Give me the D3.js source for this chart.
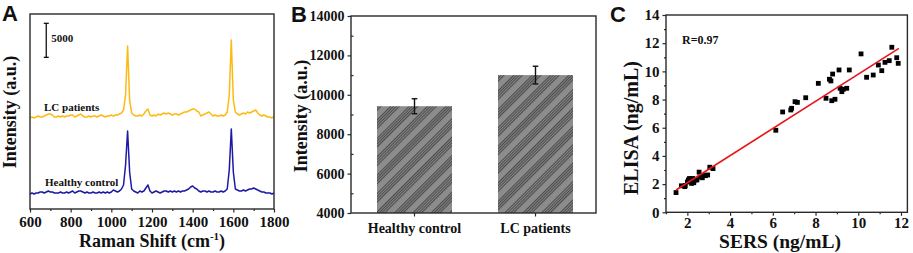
<!DOCTYPE html>
<html><head><meta charset="utf-8">
<script src="https://cdn.jsdelivr.net/npm/d3@7"></script>
<style>body{margin:0;background:#fff}svg{display:block}</style>
</head><body><svg id="c" width="913" height="253"></svg>
<script>
// ---------- Panel A data ----------
const ramanShift = d3.range(600, 1801, 10);
const lcSpectrum = [13380,13520,13380,13520,13670,13520,13520,13670,13820,13970,13970,13820,13520,13520,13670,13520,13670,13520,13670,13670,
13820,13820,13520,13670,13820,13970,13670,13520,13520,13670,13520,13670,13670,13520,13670,13820,13670,13520,13670,13670,
13820,13670,13820,13820,13970,14110,14550,16760,23960,16020,14110,13820,13670,13670,13820,13670,13970,14410,14700,13820,
13670,13820,13670,13970,13820,13970,14110,13970,14110,13970,13820,13970,13970,13820,13970,14110,14260,14260,14410,14550,
14700,14700,14410,14260,13670,13820,13970,14110,14260,13970,13670,13820,13670,13670,13820,13670,13820,14260,16760,24840,
16020,14260,13970,13820,13970,14110,13970,14260,14110,14260,14410,14550,14110,13820,13670,13820,13670,13520,13520,13380,13670];
const healthySpectrum = [2210,2350,2210,2350,2350,2500,2500,2350,2500,2650,2500,2500,2350,2350,2350,2500,2350,2350,2500,2350,
2500,2650,2350,2500,2650,2650,2500,2350,2500,2350,2350,2500,2350,2350,2500,2350,2500,2350,2500,2350,
2500,2790,2650,2500,2650,2940,3530,6470,11470,5440,2940,2650,2500,2350,2650,2500,2650,3090,3530,2650,
2350,2500,2650,2500,2350,2500,2650,2650,2500,2650,2500,2650,2500,2650,2500,2650,2650,2790,2940,3230,
3380,3090,2940,2650,2500,2650,2650,2500,2650,2500,2500,2650,2500,2500,2650,2500,2650,2940,5730,11760,
5440,2940,2790,2650,2650,2790,2650,2790,2940,2940,3090,2940,2790,2650,2500,2500,2350,2350,2350,2210,2350];
const ramanTicks = [600, 800, 1000, 1200, 1400, 1600, 1800];
const scaleBar = {shift: 680, top: 27300, size: 5000, label: "5000"};

// ---------- Panel B data ----------
const groups = ["Healthy control", "LC patients"];
const meanIntensity = [9420, 11000];
const sdIntensity = [380, 450];
const intensityTicks = [4000, 6000, 8000, 10000, 12000, 14000];

// ---------- Panel C data ----------
const sersValues = [1.47,1.72,1.88,2.0,2.05,2.1,2.2,2.25,2.3,2.4,2.45,2.55,2.6,2.7,2.75,2.85,2.95,3.05,3.2,2.3,1.9,
6.14,6.46,6.84,6.88,7.04,7.15,7.54,8.13,8.49,8.65,8.72,8.8,8.76,8.91,9.1,9.15,9.23,9.3,9.46,9.58,10.13,10.39,10.7,10.94,11.1,11.25,11.45,11.57,11.8,11.87];
const elisaValues = [1.40,1.88,1.82,2.15,2.3,2.4,2.05,2.4,2.2,2.3,2.3,2.85,2.5,2.45,2.6,2.6,2.65,3.2,3.1,2.1,1.9,
5.82,7.12,7.26,7.38,7.85,7.8,8.13,9.15,8.09,9.44,9.32,9.81,7.92,8.02,10.1,8.8,8.56,8.73,8.8,10.1,11.24,9.58,9.74,10.45,10.05,10.64,10.76,11.71,10.97,10.57];
const fitSlope = 0.963, fitIntercept = 0.17, fitRange = [1.47, 11.9];
const sersTicks = [2, 4, 6, 8, 10, 12];
const elisaTicks = [0, 2, 4, 6, 8, 10, 12, 14];

const serif = "'Liberation Serif','Times New Roman',serif";
const sans = "'Liberation Sans',Arial,sans-serif";
const axisCol = "#2a2a2a";
const svg = d3.select("#c");

function styleAxis(g, fs) {
  g.select(".domain").remove();
  g.selectAll(".tick line").attr("stroke", axisCol).attr("stroke-width", 1.2);
  g.selectAll(".tick text").attr("font-family", serif).attr("font-weight", "bold")
    .attr("font-size", fs).attr("fill", "#111");
}
function frame(x0, y0, x1, y1) {
  svg.append("rect").attr("x", x0).attr("y", y0).attr("width", x1 - x0).attr("height", y1 - y0)
    .attr("fill", "none").attr("stroke", axisCol).attr("stroke-width", 1.4);
}
function label(txt, x, y, fs, opts = {}) {
  const t = svg.append("text").attr("x", x).attr("y", y).attr("font-family", opts.family || serif)
    .attr("font-weight", "bold").attr("font-size", fs).attr("fill", "#111")
    .attr("text-anchor", opts.anchor || "start");
  if (opts.rotate) t.attr("transform", `rotate(-90,${x},${y})`);
  t.text(txt);
  return t;
}

// ================= Panel A =================
{
  const L = 30, R = 274, T = 14, B = 209;
  const x = d3.scaleLinear([600, 1800], [L, R]);
  const y = d3.scaleLinear([0, 28670], [B, T]);
  const line = d3.line().x((d, i) => x(ramanShift[i])).y(d => y(d));
  svg.append("path").datum(lcSpectrum).attr("d", line).attr("fill", "none")
    .attr("stroke", "#FDBA12").attr("stroke-width", 1.5).attr("stroke-linejoin", "round");
  svg.append("path").datum(healthySpectrum).attr("d", line).attr("fill", "none")
    .attr("stroke", "#1a1aa6").attr("stroke-width", 1.5).attr("stroke-linejoin", "round");
  const minor = d3.range(700, 1800, 200);
  svg.append("g").attr("transform", `translate(0,${B})`)
    .call(d3.axisBottom(x).tickValues(minor).tickSize(2).tickFormat(""))
    .call(g => styleAxis(g, 15));
  svg.append("g").attr("transform", `translate(0,${B})`)
    .call(d3.axisBottom(x).tickValues(ramanTicks).tickSize(3.5).tickPadding(4).tickFormat(d3.format("d")))
    .call(g => styleAxis(g, 15));
  frame(L, T, R, B);
  const sx = x(scaleBar.shift), sy0 = y(scaleBar.top), sy1 = y(scaleBar.top - scaleBar.size);
  svg.append("line").attr("x1", sx).attr("x2", sx).attr("y1", sy0).attr("y2", sy1).attr("stroke", "#111").attr("stroke-width", 1.3);
  [sy0, sy1].forEach(v => svg.append("line").attr("x1", sx - 2.5).attr("x2", sx + 2.5).attr("y1", v).attr("y2", v)
    .attr("stroke", "#111").attr("stroke-width", 1.3));
  label(scaleBar.label, sx + 5, sy0 + 19, 11);
  label("LC patients", 44, 111, 11);
  label("Healthy control", 45, 186, 11);
  label("Intensity (a.u.)", 16, 112, 18, {anchor: "middle", rotate: true});
  const t = label("Raman Shift (cm", 152, 247, 18, {anchor: "middle"});
  t.append("tspan").attr("dy", -7).attr("font-size", 11).text("-1");
  t.append("tspan").attr("dy", 7).text(")");
  label("A", 2, 21, 22, {family: sans});
}

// ================= Panel B =================
{
  const L = 351, R = 596, T = 16, B = 213;
  const y = d3.scaleLinear([4000, 14000], [B, T]);
  const x = d3.scaleBand(groups, [354, 596]).paddingInner(0.38).paddingOuter(0.19);
  const defs = svg.append("defs");
  const pat = defs.append("pattern").attr("id", "hatch").attr("patternUnits", "userSpaceOnUse")
    .attr("width", 13).attr("height", 13).attr("patternTransform", "rotate(45)");
  pat.append("rect").attr("width", 13).attr("height", 13).attr("fill", "#8c8c8c");
  [0.6, 2.6, 4.6, 6.6].forEach(p => pat.append("line").attr("x1", p).attr("x2", p).attr("y1", 0).attr("y2", 13)
    .attr("stroke", "#3c3c3c").attr("stroke-width", 0.9));
  svg.append("g").selectAll("rect").data(groups).join("rect")
    .attr("x", d => x(d)).attr("width", x.bandwidth())
    .attr("y", (d, i) => y(meanIntensity[i])).attr("height", (d, i) => y(4000) - y(meanIntensity[i]))
    .attr("fill", "url(#hatch)");
  groups.forEach((g, i) => {
    const cx = x(g) + x.bandwidth() / 2;
    const hi = y(meanIntensity[i] + sdIntensity[i]), lo = y(meanIntensity[i] - sdIntensity[i]);
    svg.append("line").attr("x1", cx).attr("x2", cx).attr("y1", hi).attr("y2", lo).attr("stroke", "#111").attr("stroke-width", 1.4);
    [hi, lo].forEach(v => svg.append("line").attr("x1", cx - 2.8).attr("x2", cx + 2.8).attr("y1", v).attr("y2", v)
      .attr("stroke", "#111").attr("stroke-width", 1.4));
  });
  svg.append("g").attr("transform", `translate(${L},0)`)
    .call(d3.axisLeft(y).tickValues(d3.range(5000, 14000, 2000)).tickSize(-2.5).tickFormat(""))
    .call(g => styleAxis(g, 14));
  svg.append("g").attr("transform", `translate(${L},0)`)
    .call(d3.axisLeft(y).tickValues(intensityTicks).tickSize(3.5).tickPadding(3).tickFormat(d3.format("d")))
    .call(g => styleAxis(g, 14));
  svg.append("g").attr("transform", `translate(0,${B})`)
    .call(d3.axisBottom(x).tickSize(3.5).tickPadding(7))
    .call(g => styleAxis(g, 14));
  frame(L, T, R, B);
  label("Intensity (a.u.)", 307, 116, 18, {anchor: "middle", rotate: true});
  label("B", 291, 22, 22, {family: sans});
}

// ================= Panel C =================
{
  const L = 666, R = 907.4, T = 15, B = 212.3;
  const x = d3.scaleLinear([1, 12.3], [L, R]);
  const y = d3.scaleLinear([0, 14], [B, T]);
  svg.append("g").selectAll("rect").data(sersValues).join("rect")
    .attr("x", d => x(d) - 2.4).attr("y", (d, i) => y(elisaValues[i]) - 2.4)
    .attr("width", 4.8).attr("height", 4.8).attr("fill", "#000");
  svg.append("line").attr("x1", x(fitRange[0])).attr("x2", x(fitRange[1]))
    .attr("y1", y(fitSlope * fitRange[0] + fitIntercept)).attr("y2", y(fitSlope * fitRange[1] + fitIntercept))
    .attr("stroke", "#e8141c").attr("stroke-width", 1.6);
  svg.append("g").attr("transform", `translate(0,${B})`)
    .call(d3.axisBottom(x).tickValues(d3.range(1, 12.5, 2)).tickSize(2).tickFormat(""))
    .call(g => styleAxis(g, 15));
  svg.append("g").attr("transform", `translate(0,${B})`)
    .call(d3.axisBottom(x).tickValues(sersTicks).tickSize(3.5).tickPadding(2).tickFormat(d3.format("d")))
    .call(g => styleAxis(g, 15));
  svg.append("g").attr("transform", `translate(${L},0)`)
    .call(d3.axisLeft(y).tickValues(d3.range(1, 14, 2)).tickSize(2).tickFormat(""))
    .call(g => styleAxis(g, 15));
  svg.append("g").attr("transform", `translate(${L},0)`)
    .call(d3.axisLeft(y).tickValues(elisaTicks).tickSize(3.5).tickPadding(3).tickFormat(d3.format("d")))
    .call(g => styleAxis(g, 15));
  frame(L, T, R, B);
  label("R=0.97", 682, 44, 12);
  label("SERS (ng/mL)", 780, 248, 19.5, {anchor: "middle"});
  label("ELISA (ng/mL)", 638, 128, 20, {anchor: "middle", rotate: true});
  label("C", 610, 22, 22, {family: sans});
}
</script></body></html>
